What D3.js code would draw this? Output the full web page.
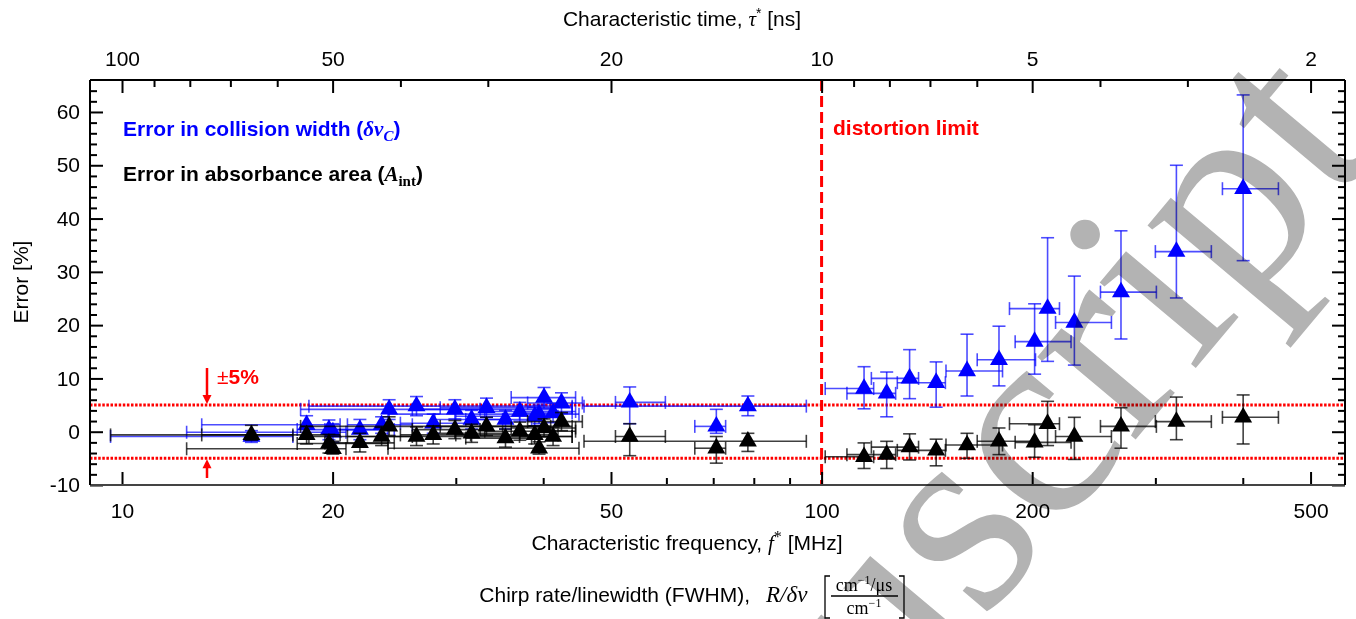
<!DOCTYPE html>
<html><head><meta charset="utf-8">
<script src="https://cdn.jsdelivr.net/npm/d3@7"></script>
<style>body{margin:0;background:#fff}svg{display:block}</style>
</head><body>
<script>
// ---------------- data ----------------
const fStar = [15.31, 18.36, 19.76, 20.02, 21.88, 23.50, 24.09, 26.36, 27.85, 29.91, 31.60, 33.19, 35.33, 37.04, 38.90, 39.46, 40.11, 41.32, 42.48, 53.18, 70.72, 78.46, 115.0, 123.9, 133.6, 145.8, 161.4, 179.3, 201.6, 210.4, 229.8, 267.9, 321.5, 400.5];
const fLow  = [9.63, 13.0, 17.8, 12.37, 19.5, 21.0, 18.0, 18.5, 25.0, 26.0, 28.0, 28.5, 31.0, 33.0, 30.0, 24.0, 36.0, 37.0, 38.0, 50.74, 65.88, 45.75, 101.2, 108.7, 117.8, 128.3, 150.6, 166.9, 189.1, 185.6, 216.0, 250.4, 300.0, 374.1];
const fHigh = [17.55, 20.5, 24.0, 20.9, 24.5, 26.0, 41.0, 44.0, 31.5, 32.5, 35.0, 44.0, 38.5, 44.5, 42.0, 45.0, 44.5, 44.0, 45.5, 59.80, 72.92, 95.1, 118.7, 127.6, 137.6, 150.3, 181.4, 202.2, 227.3, 218.8, 259.6, 301.0, 360.7, 449.8];

const widthErr   = [-0.9, 1.3, 0.4, -0.1, 0.4, 1.3, 4.2, 4.8, 1.6, 4.2, 2.3, 4.5, 2.3, 3.8, 2.9, 3.3, 6.4, 3.5, 5.4, 5.5, 1.0, 4.8, 8.1, 7.2, 10.0, 9.2, 11.4, 13.5, 16.9, 23.1, 20.5, 26.2, 33.8, 45.6];
const widthErrLo = [-2.0, -0.8, -1.5, -2.0, -1.5, -0.3, 2.3, 3.0, -0.3, 2.4, 0.5, 2.7, 0.5, 2.0, 1.1, 1.5, 4.4, 1.7, 3.4, 1.5, -0.3, 3.0, 4.3, 2.8, 6.2, 4.6, 6.7, 8.6, 10.8, 13.2, 12.5, 17.4, 25.1, 32.1];
const widthErrHi = [0.2, 3.0, 2.2, 1.5, 2.3, 2.8, 6.0, 6.6, 3.3, 6.0, 4.0, 6.3, 4.0, 5.5, 4.6, 5.0, 8.3, 5.3, 7.3, 8.4, 4.2, 6.7, 12.2, 11.2, 15.4, 13.1, 18.3, 19.8, 24.0, 36.4, 29.2, 37.7, 50.0, 63.2];

const areaErr   = [-0.6, -0.6, -2.2, -3.2, -2.1, -0.9, 1.0, -0.9, -0.6, 0.4, -0.3, 1.0, -1.2, 0.1, -0.6, -3.1, 0.7, -0.9, 1.9, -0.9, -3.1, -1.8, -4.7, -4.3, -2.9, -3.5, -2.5, -1.8, -2.0, 1.5, -0.9, 1.0, 1.9, 2.7];
const areaErrLo = [-1.6, -2.3, -4.0, -4.2, -3.8, -2.6, -0.7, -2.6, -2.3, -1.3, -2.0, -0.7, -2.9, -1.6, -2.3, -4.2, -1.0, -2.6, 0.2, -4.5, -5.9, -3.7, -6.9, -6.9, -5.3, -6.4, -5.0, -4.3, -4.8, -2.6, -5.2, -3.1, -1.5, -2.3];
const areaErrHi = [1.2, 1.0, -0.5, -1.8, -0.3, 0.8, 2.8, 0.9, 1.1, 2.1, 1.4, 2.7, 0.5, 1.8, 1.1, -1.9, 2.4, 0.8, 3.6, 1.5, -0.9, -0.3, -2.1, -1.8, -0.4, -1.4, -0.3, 0.7, 1.3, 5.7, 2.7, 4.5, 6.5, 6.9];

const xMajorTicks = [10, 20, 50, 100, 200, 500];
const xMinorTicks = [30, 40, 60, 70, 80, 90, 300, 400];
const tauMajorTicks = [100, 50, 20, 10, 5, 2];
const tauMinorTicks = [90, 80, 70, 60, 40, 30, 9, 8, 7, 6, 4, 3];
const yMajorTicks = [-10, 0, 10, 20, 30, 40, 50, 60];
const limitF = 100;
const bandLevels = [5, -5];

// ---------------- layout ----------------
const W = 1356, H = 619;
const L = 90, R = 1345, T = 80, B = 485;
const SANS = "'Liberation Sans', Arial, sans-serif";
const SERIF = "'Liberation Serif', 'DejaVu Serif', serif";

const svg = d3.select("body").append("svg").attr("width", W).attr("height", H);

const x = d3.scaleLog().domain([9.0, 560]).range([L, R]);
const y = d3.scaleLinear().domain([-10, 66]).range([B, T]);
const tauToF = t => 1000 / t;
const plain = d => String(d);

// reference lines
svg.append("line").attr("x1", x(limitF)).attr("x2", x(limitF)).attr("y1", T).attr("y2", B)
  .attr("stroke", "#ff0000").attr("stroke-width", 3).attr("stroke-dasharray", "11,5");
bandLevels.forEach(v => {
  svg.append("line").attr("x1", L).attr("x2", R).attr("y1", y(v)).attr("y2", y(v))
    .attr("stroke", "#ff0000").attr("stroke-width", 3).attr("stroke-dasharray", "2.5,1.6");
});

// error bars + markers
function drawSeries(vals, lo, hi, color, barOpacity) {
  const g = svg.append("g");
  const cap = 6.5;
  fStar.forEach((f, i) => {
    const cx = x(f), cy = y(vals[i]);
    const eb = g.append("g").attr("stroke", color).attr("stroke-opacity", barOpacity).attr("stroke-width", 1.6).attr("fill", "none");
    eb.append("line").attr("x1", cx).attr("x2", cx).attr("y1", y(lo[i])).attr("y2", y(hi[i]));
    eb.append("line").attr("x1", cx - cap).attr("x2", cx + cap).attr("y1", y(lo[i])).attr("y2", y(lo[i]));
    eb.append("line").attr("x1", cx - cap).attr("x2", cx + cap).attr("y1", y(hi[i])).attr("y2", y(hi[i]));
    eb.append("line").attr("x1", x(fLow[i])).attr("x2", x(fHigh[i])).attr("y1", cy).attr("y2", cy);
    eb.append("line").attr("x1", x(fLow[i])).attr("x2", x(fLow[i])).attr("y1", cy - cap).attr("y2", cy + cap);
    eb.append("line").attr("x1", x(fHigh[i])).attr("x2", x(fHigh[i])).attr("y1", cy - cap).attr("y2", cy + cap);
  });
  g.selectAll("path.m").data(fStar).join("path").attr("class", "m")
    .attr("d", d3.symbol(d3.symbolTriangle, 140))
    .attr("transform", (f, i) => `translate(${x(f)},${y(vals[i])})`)
    .attr("fill", color);
}
drawSeries(widthErr, widthErrLo, widthErrHi, "#0000ff", 0.7);
drawSeries(areaErr, areaErrLo, areaErrHi, "#000000", 0.75);

// ---------------- axes ----------------
function styleAxis(g) {
  g.selectAll("text").attr("font-family", SANS).attr("font-size", 21).attr("fill", "#000");
  g.selectAll("line").attr("stroke", "#000").attr("stroke-width", 2);
  g.select(".domain").remove();
}
const yMinor = d3.range(-8, 66, 2).filter(v => v % 10 !== 0);
const ax = [];
ax.push(svg.append("g").attr("transform", `translate(0,${B})`)
  .call(d3.axisBottom(x).tickValues(xMajorTicks).tickFormat(plain).tickSize(-13).tickPadding(18)));
ax.push(svg.append("g").attr("transform", `translate(0,${B})`)
  .call(d3.axisBottom(x).tickValues(xMinorTicks).tickFormat("").tickSize(-7)));
ax.push(svg.append("g").attr("transform", `translate(0,${T})`)
  .call(d3.axisTop(x).tickValues(tauMajorTicks.map(tauToF)).tickFormat(f => plain(Math.round(1000 / f))).tickSize(-13).tickPadding(14)));
ax.push(svg.append("g").attr("transform", `translate(0,${T})`)
  .call(d3.axisTop(x).tickValues(tauMinorTicks.map(tauToF)).tickFormat("").tickSize(-7)));
ax.push(svg.append("g").attr("transform", `translate(${L},0)`)
  .call(d3.axisLeft(y).tickValues(yMajorTicks).tickFormat(plain).tickSize(-13).tickPadding(10)));
ax.push(svg.append("g").attr("transform", `translate(${L},0)`)
  .call(d3.axisLeft(y).tickValues(yMinor).tickFormat("").tickSize(-7)));
ax.push(svg.append("g").attr("transform", `translate(${R},0)`)
  .call(d3.axisRight(y).tickValues(yMajorTicks).tickFormat("").tickSize(-13)));
ax.push(svg.append("g").attr("transform", `translate(${R},0)`)
  .call(d3.axisRight(y).tickValues(yMinor).tickFormat("").tickSize(-7)));
ax.forEach(styleAxis);

// frame
svg.append("line").attr("x1", L).attr("x2", R).attr("y1", T).attr("y2", T).attr("stroke", "#000").attr("stroke-width", 2);
svg.append("line").attr("x1", L).attr("x2", R).attr("y1", B).attr("y2", B).attr("stroke", "#444").attr("stroke-width", 2);
svg.append("line").attr("x1", L).attr("x2", L).attr("y1", T).attr("y2", B).attr("stroke", "#000").attr("stroke-width", 2);
svg.append("line").attr("x1", R).attr("x2", R).attr("y1", T).attr("y2", B).attr("stroke", "#000").attr("stroke-width", 2);

// ---------------- annotations ----------------
const ax5 = 207;
svg.append("line").attr("x1", ax5).attr("x2", ax5).attr("y1", 368).attr("y2", y(bandLevels[0]) - 8).attr("stroke", "#ff0000").attr("stroke-width", 2.5);
svg.append("path").attr("d", `M${ax5 - 4.5},${y(bandLevels[0]) - 10}L${ax5 + 4.5},${y(bandLevels[0]) - 10}L${ax5},${y(bandLevels[0]) - 1}Z`).attr("fill", "#ff0000");
svg.append("line").attr("x1", ax5).attr("x2", ax5).attr("y1", 478).attr("y2", y(bandLevels[1]) + 8).attr("stroke", "#ff0000").attr("stroke-width", 2.5);
svg.append("path").attr("d", `M${ax5 - 4.5},${y(bandLevels[1]) + 10}L${ax5 + 4.5},${y(bandLevels[1]) + 10}L${ax5},${y(bandLevels[1]) + 1}Z`).attr("fill", "#ff0000");
const pm = svg.append("text").attr("x", 217).attr("y", 384).attr("font-family", SANS).attr("font-size", 21).attr("fill", "#ff0000");
pm.append("tspan").text("±");
pm.append("tspan").attr("font-weight", "bold").text("5%");

svg.append("text").attr("x", 833).attr("y", 135).attr("font-family", SANS).attr("font-size", 21)
  .attr("font-weight", "bold").attr("fill", "#ff0000").text("distortion limit");

const lg1 = svg.append("text").attr("x", 123).attr("y", 136).attr("font-family", SANS).attr("font-size", 21).attr("font-weight", "bold").attr("fill", "#0000ff");
lg1.append("tspan").text("Error in collision width (");
lg1.append("tspan").attr("font-family", SERIF).attr("font-style", "italic").text("δν");
lg1.append("tspan").attr("font-family", SERIF).attr("font-style", "italic").attr("font-size", 15).attr("dy", 5).text("C");
lg1.append("tspan").attr("dy", -5).text(")");
const lg2 = svg.append("text").attr("x", 123).attr("y", 181).attr("font-family", SANS).attr("font-size", 21).attr("font-weight", "bold").attr("fill", "#000");
lg2.append("tspan").text("Error in absorbance area (");
lg2.append("tspan").attr("font-family", SERIF).attr("font-style", "italic").text("A");
lg2.append("tspan").attr("font-family", SERIF).attr("font-size", 15).attr("dy", 5).text("int");
lg2.append("tspan").attr("dy", -5).text(")");

const tt = svg.append("text").attr("x", 682).attr("y", 26).attr("text-anchor", "middle").attr("font-family", SANS).attr("font-size", 21);
tt.append("tspan").text("Characteristic time, ");
tt.append("tspan").attr("font-family", SERIF).attr("font-style", "italic").text("τ");
tt.append("tspan").attr("font-size", 14).attr("dy", -8).text("*");
tt.append("tspan").attr("dy", 8).text(" [ns]");

const bt = svg.append("text").attr("x", 687).attr("y", 550).attr("text-anchor", "middle").attr("font-family", SANS).attr("font-size", 21);
bt.append("tspan").text("Characteristic frequency, ");
bt.append("tspan").attr("font-family", SERIF).attr("font-style", "italic").text("f");
bt.append("tspan").attr("font-family", SERIF).attr("font-size", 16).attr("dy", -8).text("*");
bt.append("tspan").attr("dy", 8).text(" [MHz]");

svg.append("text").attr("transform", "translate(28,282) rotate(-90)").attr("text-anchor", "middle")
  .attr("font-family", SANS).attr("font-size", 21).text("Error [%]");

svg.append("text").attr("x", 750).attr("y", 602).attr("text-anchor", "end").attr("font-family", SANS).attr("font-size", 21).text("Chirp rate/linewidth (FWHM),");
svg.append("text").attr("x", 766).attr("y", 602).attr("font-family", SERIF).attr("font-style", "italic").attr("font-size", 23).text("R/δν");
svg.append("path").attr("d", "M830,576 L825,576 L825,618 L830,618").attr("fill", "none").attr("stroke", "#000").attr("stroke-width", 1.3);
svg.append("path").attr("d", "M899,576 L904,576 L904,618 L899,618").attr("fill", "none").attr("stroke", "#000").attr("stroke-width", 1.3);
svg.append("line").attr("x1", 831).attr("x2", 898).attr("y1", 596).attr("y2", 596).attr("stroke", "#000").attr("stroke-width", 1.3);
const num = svg.append("text").attr("x", 864).attr("y", 591).attr("text-anchor", "middle").attr("font-family", SERIF).attr("font-size", 18);
num.append("tspan").text("cm");
num.append("tspan").attr("font-size", 12).attr("dy", -7).text("−1");
num.append("tspan").attr("dy", 7).text("/μs");
const den = svg.append("text").attr("x", 864).attr("y", 614).attr("text-anchor", "middle").attr("font-family", SERIF).attr("font-size", 18);
den.append("tspan").text("cm");
den.append("tspan").attr("font-size", 12).attr("dy", -7).text("−1");

// watermark
svg.append("text").attr("transform", "translate(1382,146) rotate(-50)").attr("text-anchor", "end")
  .attr("font-family", SERIF).attr("font-size", 280).attr("fill", "#b3b3b3")
  .style("mix-blend-mode", "multiply").text("Manuscript");
</script>
</body></html>
